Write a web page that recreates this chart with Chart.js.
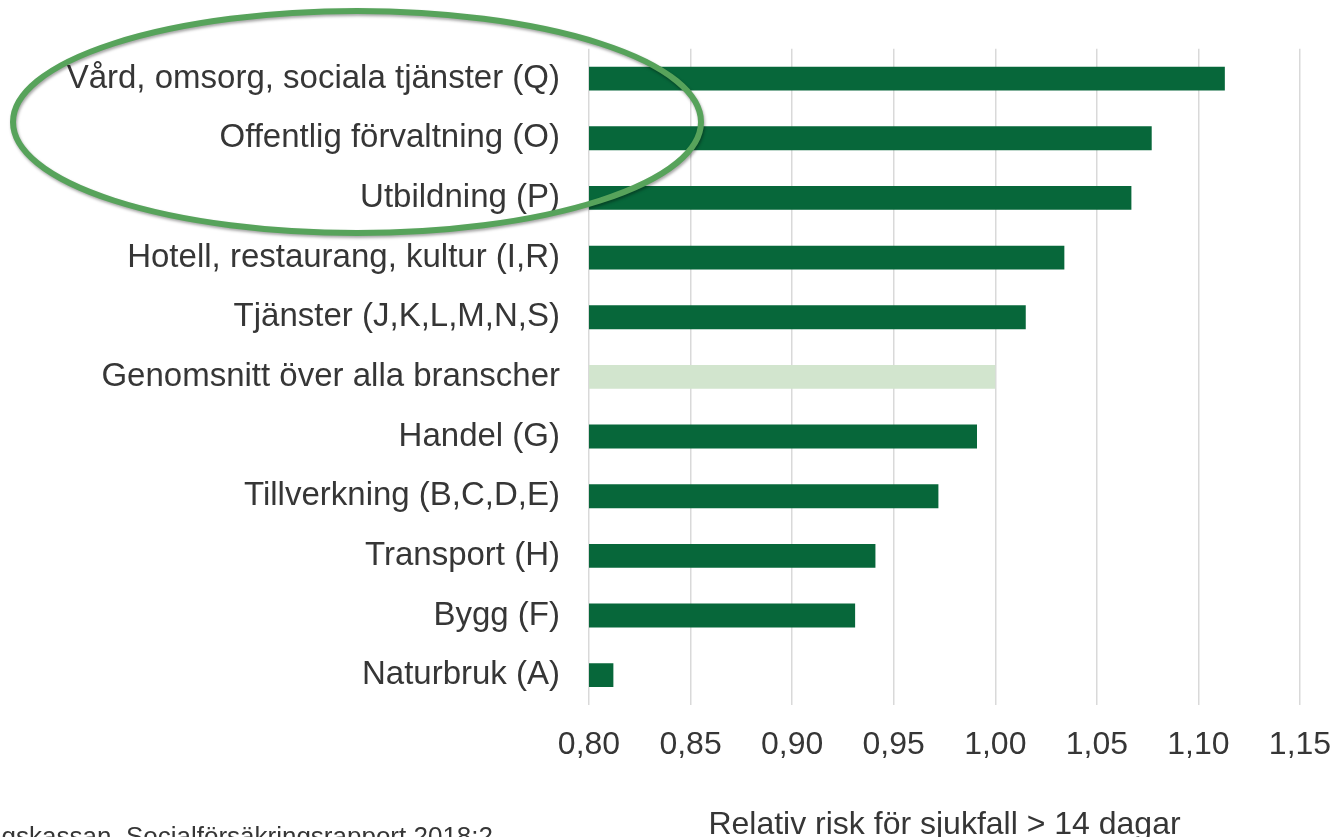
<!DOCTYPE html>
<html>
<head>
<meta charset="utf-8">
<script src="https://cdn.jsdelivr.net/npm/chart.js@4.4.1/dist/chart.umd.min.js"></script>
<style>
html,body{margin:0;padding:0;background:#fff;overflow:hidden}
#wrap{width:1337px;height:837px;position:relative}
</style>
</head>
<body>
<div id="wrap"><canvas id="c" width="1337" height="837"></canvas></div>
<script>
const categories = [
  "Vård, omsorg, sociala tjänster (Q)",
  "Offentlig förvaltning (O)",
  "Utbildning (P)",
  "Hotell, restaurang, kultur (I,R)",
  "Tjänster (J,K,L,M,N,S)",
  "Genomsnitt över alla branscher",
  "Handel (G)",
  "Tillverkning (B,C,D,E)",
  "Transport (H)",
  "Bygg (F)",
  "Naturbruk (A)"
];
const relativeRisk = [1.113, 1.077, 1.067, 1.034, 1.015, 1.000, 0.991, 0.972, 0.941, 0.931, 0.812];
const tickValues = [0.80, 0.85, 0.90, 0.95, 1.00, 1.05, 1.10, 1.15];
const axisTitle = "Relativ risk för sjukfall > 14 dagar";
const sourceText = "Källa: Försäkringskassan, Socialförsäkringsrapport 2018:2";
const averageLabel = "Genomsnitt över alla branscher";

const DARK = '#07673a';
const LIGHT = '#d2e5ce';
const TEXT = '#363636';
const FONT = "'Liberation Sans', Arial, sans-serif";

const annotationPlugin = {
  id: 'annot',
  afterDraw(chart) {
    const ctx = chart.ctx;
    ctx.save();
    ctx.shadowColor = 'rgba(0,0,0,0.35)';
    ctx.shadowBlur = 3;
    ctx.shadowOffsetX = 1;
    ctx.shadowOffsetY = 2;
    ctx.strokeStyle = '#57a35b';
    ctx.lineWidth = 6;
    ctx.beginPath();
    ctx.ellipse(357, 122, 344, 111, 0, 0, Math.PI * 2);
    ctx.stroke();
    ctx.restore();
    ctx.save();
    ctx.font = "26px " + FONT;
    ctx.fillStyle = TEXT;
    ctx.textAlign = 'right';
    ctx.textBaseline = 'alphabetic';
    ctx.fillText(sourceText, 493, 845);
    ctx.restore();
  }
};

new Chart(document.getElementById('c'), {
  type: 'bar',
  data: {
    labels: categories,
    datasets: [{
      data: relativeRisk,
      backgroundColor: categories.map(c => c === averageLabel ? LIGHT : DARK),
      borderWidth: 0,
      categoryPercentage: 1,
      barPercentage: 0.4
    }]
  },
  options: {
    indexAxis: 'y',
    responsive: false,
    devicePixelRatio: 1,
    animation: false,
    layout: { padding: { left: 0, right: 37, top: 48, bottom: 0 } },
    plugins: { legend: { display: false }, tooltip: { enabled: false } },
    scales: {
      x: {
        min: 0.8,
        max: 1.15,
        afterBuildTicks(scale) { scale.ticks = tickValues.map(v => ({ value: v })); },
        afterFit(scale) { scale.height = 132; },
        grid: { color: '#d9d9d9', lineWidth: 1.5, drawTicks: false },
        border: { display: false },
        ticks: {
          padding: 5,
          color: TEXT,
          font: { family: FONT, size: 32, lineHeight: 2.2 },
          maxRotation: 0,
          autoSkip: false,
          callback: v => Number(v).toFixed(2).replace('.', ',')
        },
        title: {
          display: true,
          text: axisTitle,
          color: TEXT,
          font: { family: FONT, size: 32, lineHeight: 1 },
          padding: { top: 0, bottom: -4 }
        }
      },
      y: {
        afterFit(scale) { scale.width = 589; },
        grid: { display: false, drawTicks: false },
        border: { display: false },
        ticks: {
          padding: 29,
          color: TEXT,
          font: { family: FONT, size: 33 },
          autoSkip: false
        }
      }
    }
  },
  plugins: [annotationPlugin]
});
</script>
</body>
</html>
